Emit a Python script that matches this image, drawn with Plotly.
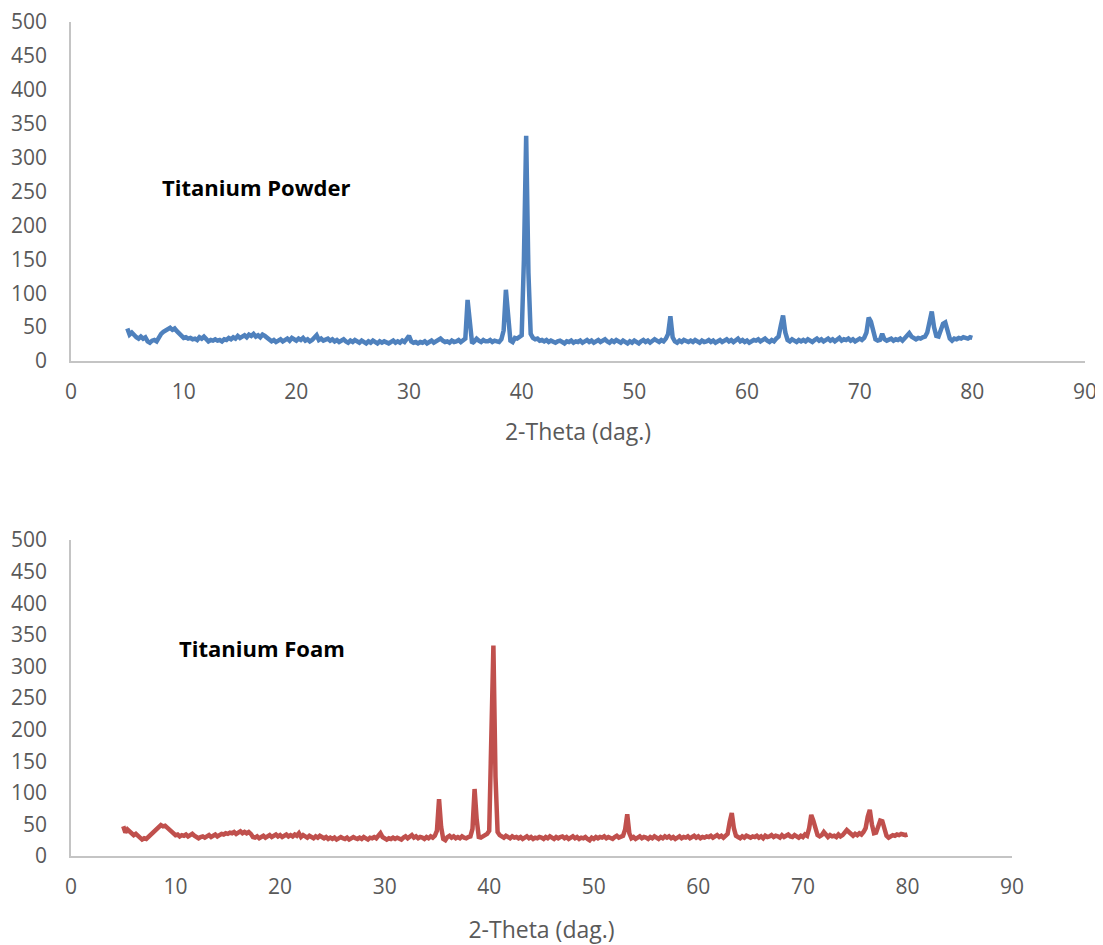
import numpy as np
import plotly.graph_objects as go

# 2-theta scan: 5.0 .. 80.0 deg, step 0.2
theta_start = 5.0
theta_step = 0.2

powder_counts = [
    48, 39, 42, 38, 35, 33, 36, 33, 35, 29,   # 5.0
    27, 30, 31, 29, 35, 40, 43, 45, 47, 49,   # 7.0
    46, 48, 44, 40, 37, 34, 35, 33, 34, 32,   # 9.0
    33, 31, 35, 33, 36, 31, 29, 31, 30, 32,   # 11.0
    30, 31, 29, 32, 31, 34, 32, 35, 33, 37,   # 13.0
    34, 36, 38, 35, 39, 37, 40, 36, 38, 35,   # 15.0
    39, 37, 34, 31, 29, 31, 28, 30, 32, 29,   # 17.0
    31, 33, 30, 34, 32, 30, 33, 31, 34, 30,   # 19.0
    32, 29, 31, 34, 38, 31, 33, 30, 32, 33,   # 21.0
    30, 32, 29, 31, 28, 30, 32, 29, 27, 30,   # 23.0
    28, 31, 29, 27, 30, 28, 26, 29, 27, 30,   # 25.0
    28, 26, 29, 27, 29, 28, 26, 28, 30, 27,   # 27.0
    29, 27, 30, 28, 33, 37, 29, 27, 28, 26,   # 29.0
    28, 27, 29, 26, 28, 30, 27, 29, 31, 33,   # 31.0
    30, 28, 29, 27, 30, 28, 29, 31, 28, 30,   # 33.0
    33, 90, 48, 26, 29, 33, 30, 28, 31, 29,   # 35.0
    29, 31, 28, 30, 29, 28, 32, 45, 105, 55,  # 37.0
    30, 28, 34, 33, 35, 38, 150, 332, 130, 40,  # 39.0
    34, 32, 33, 30, 31, 29, 31, 28, 30, 29,   # 41.0
    27, 29, 30, 28, 26, 29, 28, 30, 27, 29,   # 43.0
    28, 30, 27, 29, 31, 28, 30, 27, 29, 31,   # 45.0
    28, 30, 32, 29, 27, 30, 28, 31, 29, 27,   # 47.0
    30, 28, 26, 29, 27, 30, 28, 26, 29, 31,   # 49.0
    28, 30, 27, 29, 32, 30, 28, 31, 29, 33,   # 51.0
    40, 66, 35, 29, 27, 30, 28, 31, 29, 28,   # 53.0
    30, 28, 31, 29, 27, 30, 28, 29, 31, 28,   # 55.0
    30, 27, 29, 31, 28, 30, 32, 29, 31, 28,   # 57.0
    30, 33, 29, 31, 28, 30, 27, 29, 31, 30,   # 59.0
    32, 29, 31, 33, 30, 28, 31, 29, 33, 36,   # 61.0
    52, 67, 42, 31, 29, 32, 30, 28, 31, 29,   # 63.0
    31, 29, 32, 30, 28, 31, 33, 30, 32, 29,   # 65.0
    31, 33, 30, 32, 29, 31, 34, 30, 32, 31,   # 67.0
    33, 30, 32, 29, 31, 33, 31, 34, 42, 64,   # 69.0
    58, 45, 32, 30, 31, 40, 32, 30, 31, 33,   # 71.0
    30, 32, 31, 33, 30, 34, 38, 41, 36, 33,   # 73.0
    32, 34, 33, 35, 36, 42, 60, 73, 50, 37,   # 75.0
    36, 46, 55, 57, 44, 33, 30, 33, 32, 34,   # 77.0
    33, 35, 34, 33, 35, 34,                   # 79.0 .. 80.0
]

foam_counts = [
    47, 37, 42, 39, 35, 33, 35, 31, 29, 26,   # 5.0
    28, 27, 30, 33, 38, 41, 44, 47, 49, 47,   # 7.0
    48, 45, 42, 38, 35, 33, 34, 31, 33, 32,   # 9.0
    34, 31, 33, 35, 32, 30, 28, 30, 31, 29,   # 11.0
    31, 33, 30, 32, 34, 31, 33, 35, 34, 36,   # 13.0
    35, 37, 36, 38, 35, 37, 39, 36, 38, 36,   # 15.0
    38, 35, 30, 29, 31, 28, 30, 32, 29, 31,   # 17.0
    33, 30, 32, 34, 31, 33, 30, 32, 34, 31,   # 19.0
    33, 31, 34, 32, 36, 30, 33, 31, 29, 32,   # 21.0
    30, 28, 31, 29, 32, 30, 28, 30, 27, 29,   # 23.0
    27, 29, 26, 28, 30, 28, 27, 29, 26, 28,   # 25.0
    30, 28, 27, 29, 27, 30, 28, 26, 29, 28,   # 27.0
    30, 28, 32, 36, 30, 28, 26, 28, 27, 29,   # 29.0
    27, 29, 28, 26, 29, 31, 28, 30, 33, 29,   # 31.0
    31, 28, 30, 29, 27, 30, 28, 31, 29, 32,   # 33.0
    40, 90, 46, 27, 25, 30, 32, 29, 31, 28,   # 35.0
    30, 28, 31, 29, 28, 30, 31, 43, 106, 58,  # 37.0
    30, 29, 31, 33, 35, 40, 160, 333, 125, 38,  # 39.0
    33, 31, 29, 32, 30, 28, 31, 29, 30, 28,   # 41.0
    30, 27, 29, 31, 28, 30, 27, 29, 28, 30,   # 43.0
    29, 27, 30, 28, 31, 29, 27, 30, 28, 30,   # 45.0
    31, 28, 30, 27, 29, 31, 28, 30, 27, 29,   # 47.0
    28, 30, 27, 25, 29, 27, 30, 28, 30, 29,   # 49.0
    31, 28, 30, 29, 27, 30, 32, 29, 31, 32,   # 51.0
    42, 66, 36, 28, 30, 27, 29, 31, 28, 30,   # 53.0
    29, 27, 30, 28, 31, 29, 27, 30, 28, 31,   # 55.0
    29, 31, 28, 30, 27, 29, 31, 28, 30, 29,   # 57.0
    31, 28, 30, 32, 29, 31, 28, 30, 29, 31,   # 59.0
    30, 32, 29, 31, 33, 30, 32, 29, 31, 35,   # 61.0
    54, 68, 44, 32, 30, 28, 31, 29, 32, 30,   # 63.0
    29, 31, 30, 32, 29, 31, 28, 32, 30, 31,   # 65.0
    33, 30, 32, 31, 29, 33, 30, 32, 34, 31,   # 67.0
    30, 33, 31, 29, 32, 30, 34, 32, 44, 65,   # 69.0
    56, 44, 33, 31, 33, 38, 35, 30, 33, 31,   # 71.0
    32, 30, 34, 31, 33, 36, 41, 38, 34, 32,   # 73.0
    35, 33, 36, 34, 38, 44, 62, 73, 50, 36,   # 75.0
    37, 47, 56, 55, 42, 32, 29, 31, 33, 32,   # 77.0
    34, 33, 35, 34, 33, 34,                   # 79.0 .. 80.0
]

panel_labels = ["Titanium Powder", "Titanium Foam"]
x_title = "2-Theta (dag.)"
x_ticks = [0, 10, 20, 30, 40, 50, 60, 70, 80, 90]
y_ticks = [0, 50, 100, 150, 200, 250, 300, 350, 400, 450, 500]

theta_p = np.round(theta_start + theta_step * np.arange(len(powder_counts)), 1)
theta_f = np.round(theta_start + theta_step * np.arange(len(foam_counts)), 1)

# the page body adds an 8 px margin, so the figure is drawn 8 px in from the corner
OFF = 8
W, H = 1103 - OFF, 945 - OFF
L, R, T, B = 71 - OFF, W - (1085 - OFF), 22 - OFF, H - (856 - OFF)
IW, IH = W - L - R, H - T - B
FONT = "Open Sans"
GRAY = "#595959"
AXIS = "#C4C4C4"


def px_x(px):
    return (px - OFF - L) / IW


def px_y(py):
    return (H - B - (py - OFF)) / IH


fig = go.Figure()
fig.add_trace(go.Scatter(x=theta_p, y=powder_counts, mode="lines",
                         line=dict(color="#4F81BD", width=4.5), xaxis="x", yaxis="y",
                         showlegend=False, hoverinfo="x+y"))
fig.add_trace(go.Scatter(x=theta_f, y=foam_counts, mode="lines",
                         line=dict(color="#C0504D", width=4.5), xaxis="x2", yaxis="y2",
                         showlegend=False, hoverinfo="x+y"))


def xax(domain, anchor, standoff):
    return dict(domain=domain, anchor=anchor, range=[0, 90], tickvals=x_ticks,
                showgrid=False, zeroline=False, showline=True, linecolor=AXIS, linewidth=1.5,
                ticks="", tickfont=dict(family=FONT, size=21, color=GRAY),
                ticklabelstandoff=11, automargin=False, ticklabeloverflow="allow",
                title=dict(text=x_title, font=dict(family=FONT, size=23, color=GRAY),
                           standoff=standoff))


def yax(domain, anchor):
    return dict(domain=domain, anchor=anchor, range=[0, 500], tickvals=y_ticks,
                showgrid=False, zeroline=False, showline=True, linecolor=AXIS, linewidth=1.5,
                ticks="", tickfont=dict(family=FONT, size=21, color=GRAY),
                ticklabelstandoff=18, automargin=False, ticklabeloverflow="allow")


fig.update_layout(
    width=W, height=H,
    margin=dict(l=L, r=R, t=T, b=B),
    paper_bgcolor="white", plot_bgcolor="white",
    xaxis=xax([0, 1], "y", 20),
    yaxis=yax([px_y(361), 1], "x"),
    xaxis2=xax([0, px_x(1012)], "y2", 25),
    yaxis2=yax([0, px_y(540)], "x2"),
    annotations=[
        dict(text="<b>%s</b>" % panel_labels[0], xref="paper", yref="paper",
             x=px_x(160), y=px_y(187), xanchor="left", yanchor="middle", showarrow=False,
             font=dict(family=FONT, size=22, color="black")),
        dict(text="<b>%s</b>" % panel_labels[1], xref="paper", yref="paper",
             x=px_x(177), y=px_y(648), xanchor="left", yanchor="middle", showarrow=False,
             font=dict(family=FONT, size=22, color="black")),
    ],
)

fig.write_html("out.html")
